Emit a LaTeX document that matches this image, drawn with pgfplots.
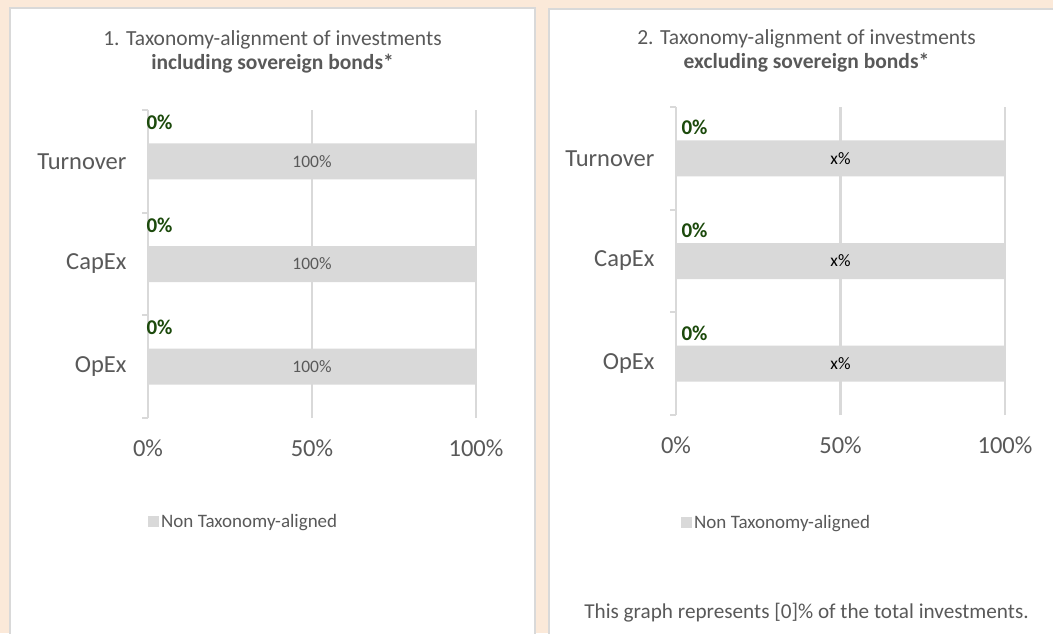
\documentclass[border=0pt]{standalone}
\usepackage{fontspec}
\setmainfont{Carlito}
\usepackage{pgfplots}
\pgfplotsset{compat=1.18}
\definecolor{bg}{HTML}{FBE9D9}
\definecolor{panelborder}{HTML}{D9D9D9}
\definecolor{gridc}{HTML}{D9D9D9}
\definecolor{barc}{HTML}{D9D9D9}
\definecolor{txt}{HTML}{595959}
\definecolor{greenl}{HTML}{1C4A0C}
\pgfplotsset{
 panel/.style={
  scale only axis, height=308pt, anchor=south west,
  xmin=0,xmax=100,ymin=-0.5,ymax=2.5,
  axis line style={draw=none},
  xmajorgrids, grid style={gridc, line width=2.2pt},
  xtick={0,50,100}, xticklabels={0\%,50\%,100\%},
  ytick={0,1,2}, yticklabels={OpEx,CapEx,Turnover},
  major tick length=0pt,
  tick style={gridc, line width=2.2pt},
  tick label style={font=\fontsize{24.5}{28}\selectfont, text=txt},
  xticklabel style={yshift=-18pt},
  yticklabel style={xshift=-18pt},
  extra y ticks={-0.5,0.5,1.5,2.5}, extra y tick labels={},
  extra y tick style={major tick length=6pt, tick align=outside, tick pos=left},
  clip=false,
  /pgf/number format/assume math mode=true,
  legend style={draw=none, fill=none, inner sep=0pt, font=\fontsize{19}{22}\selectfont, text=txt, legend cell align=left, anchor=west, nodes={inner xsep=2pt}},
  legend image code/.code={\fill[barc] (0pt,-5.5pt) rectangle (11pt,5.5pt);},
 }
}
\begin{document}
\begin{tikzpicture}[x=1pt,y=1pt]
\fill[bg] (0,0) rectangle (1053,633);
\begin{scope}
\clip (0,0) rectangle (1053,633);
\filldraw[fill=white, draw=panelborder, line width=2pt] (10,625) rectangle (535,-20);
\filldraw[fill=white, draw=panelborder, line width=2pt] (549,624) rectangle (1080,-20);
\end{scope}
% titles
\node[anchor=base, text=txt, font=\fontsize{21.5}{25}\selectfont] at (272.5,587) {1. Taxonomy-alignment of investments};
\node[anchor=base, text=txt, font=\bfseries\fontsize{21.5}{25}\selectfont] at (272.5,563) {including sovereign bonds*};
\node[anchor=base, text=txt, font=\fontsize{21.5}{25}\selectfont] at (806.5,588) {2. Taxonomy-alignment of investments};
\node[anchor=base, text=txt, font=\bfseries\fontsize{21.5}{25}\selectfont] at (806.5,564) {excluding sovereign bonds*};
\node[anchor=base, text=txt, font=\fontsize{21.2}{25}\selectfont] at (806.5,15) {This graph represents [0]\% of the total investments.};
% left axis
\begin{axis}[panel, width=328pt, at={(148pt,215pt)},
  legend style={at={(axis description cs:0,-0.337)}},
  legend entries={Non Taxonomy-aligned}]
\addplot[xbar, bar width=36pt, bar shift=0pt, fill=barc, draw=none,
  point meta=x, nodes near coords={\pgfmathprintnumber{\pgfplotspointmeta}\%},
  every node near coord/.append style={anchor=center, xshift=-164pt, font=\fontsize{17.5}{20}\selectfont, text=txt}]
  coordinates {(100,0) (100,1) (100,2)};
\addplot[xbar, bar width=36pt, bar shift=0pt, fill=none, draw=none, forget plot,
  point meta=x, nodes near coords={\pgfmathprintnumber{\pgfplotspointmeta}\%},
  every node near coord/.append style={anchor=west, xshift=-5pt, yshift=39pt, font=\bfseries\fontsize{21}{24}\selectfont, text=greenl}]
  coordinates {(0,0) (0,1) (0,2)};
\end{axis}
% right axis
\begin{axis}[panel, width=329pt, at={(676pt,218pt)},
  legend style={at={(axis description cs:0,-0.349)}, xshift=5pt},
  legend entries={Non Taxonomy-aligned}]
\addplot[xbar, bar width=36pt, bar shift=0pt, fill=barc, draw=none,
  point meta=explicit symbolic, nodes near coords,
  every node near coord/.append style={anchor=center, xshift=-164.5pt, font=\fontsize{17.5}{20}\selectfont, text=black}]
  coordinates {(100,0) [x\%] (100,1) [x\%] (100,2) [x\%]};
\addplot[xbar, bar width=36pt, bar shift=0pt, fill=none, draw=none, forget plot,
  point meta=x, nodes near coords={\pgfmathprintnumber{\pgfplotspointmeta}\%},
  every node near coord/.append style={anchor=west, xshift=2pt, yshift=30.5pt, font=\bfseries\fontsize{21}{24}\selectfont, text=greenl}]
  coordinates {(0,0) (0,1) (0,2)};
\end{axis}
\pgfresetboundingbox
\path[use as bounding box] (0,0) rectangle (1053,633);
\end{tikzpicture}
\end{document}
